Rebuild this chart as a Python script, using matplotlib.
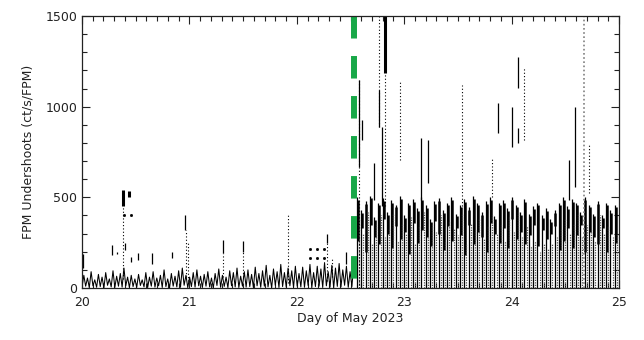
import numpy as np
import matplotlib
matplotlib.use('Agg')
from matplotlib import pyplot as plt

# quiet part before the change: peak and trough values of each wiggle
quiet_peaks = [70, 55, 90, 45, 75, 60, 85, 50, 95, 65, 80, 110, 60, 70, 50,
               75, 45, 85, 60, 90, 55, 70, 100, 50, 80, 65, 95, 110, 70, 60,
               85, 100, 65, 75, 90, 55, 80, 105, 70, 60, 95, 85, 110, 65, 90,
               100, 75, 115, 80, 95, 125, 70, 105, 90, 130, 85, 110, 95, 120, 80,
               115, 95, 130, 85, 120, 105, 140, 90, 125, 110, 135, 100, 120, 90, 130]
quiet_troughs = [5, 10, 2, 12, 4, 8, 0, 15, 6, 3, 10, 5, 12, 2, 8,
                 4, 14, 6, 2, 10, 5, 12, 3, 8, 0, 10, 6, 4, 15, 2,
                 8, 5, 12, 3, 10, 6, 0, 14, 4, 9, 2, 12, 6, 3, 10,
                 5, 8, 2, 12, 4, 10, 6, 0, 15, 3, 8, 5, 12, 2, 10,
                 6, 4, 14, 2, 8, 10, 3, 12, 5, 0, 9, 6, 15, 4, 8]
quiet_t0 = 20.0
quiet_t1 = 22.53

# isolated solid streaks: time, low, high
streak_t = [20.01, 20.28, 20.33, 20.40, 20.46, 20.52, 20.65, 20.84, 20.96,
            21.31, 21.50, 22.28, 22.46,
            22.58, 22.61, 22.72, 22.77, 22.79, 23.16, 23.22, 23.87, 24.00, 24.06, 24.06,
            24.53, 24.59]
streak_lo = [110, 180, 185, 210, 145, 155, 130, 165, 320,
             195, 200, 250, 130,
             667, 815, 485, 888, 450, 485, 579, 855, 778, 1103, 800,
             485, 557]
streak_hi = [190, 237, 200, 250, 170, 195, 195, 198, 400,
             265, 260, 300, 200,
             1147, 925, 690, 1092, 888, 827, 816, 1020, 998, 1275, 882,
             706, 998]
thick_t = [20.38, 20.44, 22.82]
thick_lo = [450, 500, 1186]
thick_hi = [540, 535, 1510]

# dotted streaks
dot_t = [20.38, 20.97, 20.99, 21.31, 21.50, 21.92, 22.28, 22.33,
         22.58, 22.77, 22.82, 22.96, 23.54, 23.82, 24.12, 24.72]
dot_lo = [50, 60, 40, 60, 60, 30, 40, 60,
          0, 888, 450, 706, 450, 500, 816, 524]
dot_hi = [450, 320, 250, 195, 200, 410, 250, 160,
          1147, 1500, 1186, 1147, 1120, 723, 1220, 800]
grey_dot_t = [24.67]

# single points
pt_t = [20.39, 20.46, 22.12, 22.19, 22.25, 22.12, 22.19, 22.25]
pt_y = [400, 400, 215, 215, 215, 165, 165, 165]

# active part after the change, one stroke per step
active_t0 = 22.56
active_step = 0.04
active_top = [500, 430, 480, 510, 390, 470, 495, 420, 485, 460, 505, 400, 470, 490, 440,
              500, 455, 380, 480, 495, 430, 470, 500, 410, 460, 490, 445, 505, 470, 420,
              480, 500, 395, 470, 485, 440, 500, 460, 420, 490, 410, 450, 470, 400, 440,
              380, 430, 470, 500, 450, 490, 470, 420, 500, 460, 410, 480, 400, 470, 430, 460]
active_blob = [260, 330, 200, 350, 280, 240, 380, 300, 220, 340, 270, 310, 190, 360, 250,
               320, 280, 230, 370, 300, 210, 340, 260, 330, 290, 180, 350, 240, 310, 280,
               200, 360, 300, 250, 330, 220, 380, 270, 310, 240, 290, 350, 230, 320, 270,
               300, 340, 210, 260, 330, 220, 290, 350, 200, 310, 280, 240, 330, 200, 300, 250]
active_dot = [380, 300, 420, 250, 350, 400, 280, 330, 410, 260, 360, 300, 390, 240, 340,
              420, 280, 350, 310, 400, 260, 370, 330, 290, 410, 250, 360, 320, 380, 270,
              340, 400, 300, 350, 260, 390, 310, 420, 280, 340, 230, 260, 200, 250, 220,
              240, 280, 330, 380, 300, 360, 410, 280, 350, 320, 260, 400, 300, 340, 280, 300]

change_day = 22.53

fig = plt.figure(figsize=(6.44, 3.40), dpi=100)
ax = fig.add_axes([82/644, 1-288/340, 537/644, 272/340])

# interleave troughs and peaks into one wiggly trace
quiet_y = np.ravel(np.column_stack([quiet_troughs, quiet_peaks]))
qt = np.linspace(quiet_t0, quiet_t1, len(quiet_y))
ax.plot(qt, quiet_y, color='black', lw=0.75)

at = active_t0 + active_step*np.arange(len(active_top))
ax.vlines(at, 0, active_top, color='black', lw=0.9)
ax.vlines(at + 0.008, active_blob, np.array(active_top) - 15, color='black', lw=1.8)
ax.vlines(at + active_step/2, 0, active_dot, color='0.3', lw=0.9, linestyles=(0, (1, 1)))

ax.vlines(streak_t, streak_lo, streak_hi, color='black', lw=0.9)
ax.vlines(thick_t, thick_lo, thick_hi, color='black', lw=2.2)
ax.vlines(dot_t, dot_lo, dot_hi, color='black', lw=0.8, linestyles=(0, (1, 2)))
ax.vlines(grey_dot_t, 0, 1500, color='0.5', lw=1.2, linestyles=(0, (1, 1.5)))
ax.plot(pt_t, pt_y, 's', color='black', ms=1)

ax.plot([change_day, change_day], [1500, 0], color='#18a848', lw=4.3,
        dashes=(3.77, 2.93), solid_capstyle='butt', dash_capstyle='butt')

ax.set_xlim(20, 25)
ax.set_ylim(0, 1500)
ax.set_xticks([20, 21, 22, 23, 24, 25])
ax.set_xticks(np.arange(20, 25.01, 0.1), minor=True)
ax.set_yticks([0, 500, 1000, 1500])
ax.set_yticks(np.arange(0, 1501, 100), minor=True)
ax.tick_params(which='both', direction='in', top=True, right=True, colors='#222',
               labelsize=9, width=0.8)
ax.tick_params(which='major', length=6)
ax.tick_params(which='minor', length=3.5)
ax.tick_params(axis='x', pad=6)
for s in ax.spines.values():
    s.set_linewidth(0.9)
    s.set_color('#222')

ax.set_xlabel('Day of May 2023', fontsize=9, color='#222', labelpad=2)
ax.set_ylabel('FPM Undershoots (ct/s/FPM)', fontsize=9, color='#222', labelpad=8)

fig.savefig('out.png', dpi=100)
